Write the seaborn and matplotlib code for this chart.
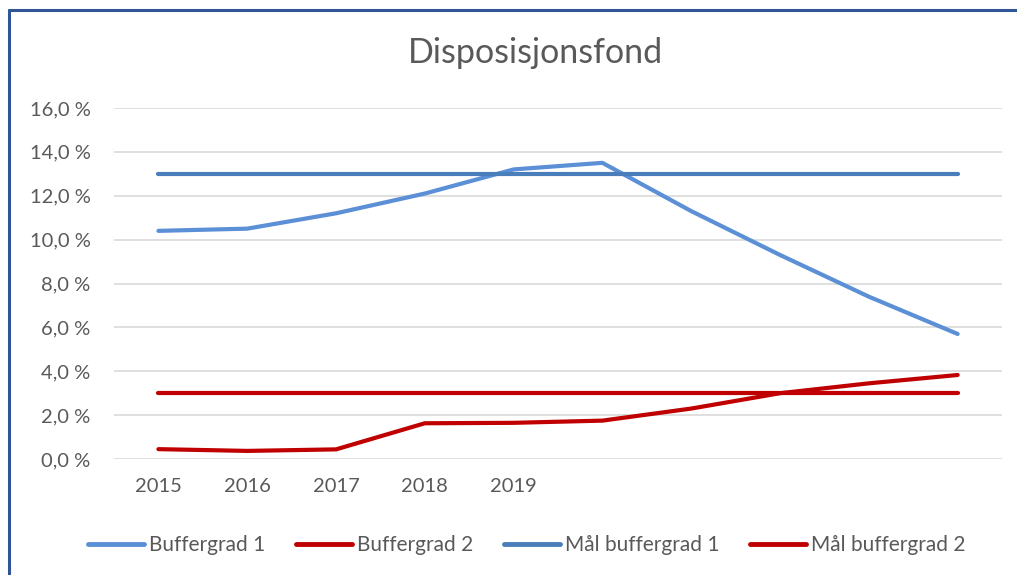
import numpy as np
import pandas as pd
import matplotlib
matplotlib.use("Agg")
import matplotlib.pyplot as plt
from matplotlib.lines import Line2D
from matplotlib.ticker import FuncFormatter
import seaborn as sns

# data (share, in %)
periods = ["2015", "2016", "2017", "2018", "2019", "", "", "", "", ""]
buffergrad_1 = [10.4, 10.5, 11.2, 12.1, 13.2, 13.5, 11.3, 9.3, 7.4, 5.7]
buffergrad_2 = [0.45, 0.37, 0.44, 1.63, 1.65, 1.75, 2.3, 3.0, 3.45, 3.83]
maal_1 = [13.0] * 10
maal_2 = [3.0] * 10

series_names = ["Buffergrad 1", "Buffergrad 2", "Mål buffergrad 1", "Mål buffergrad 2"]
colors = ["#5B8FD6", "#C00000", "#4A7EBB", "#C00000"]

sns.set_theme(style="white")
plt.rcParams["font.family"] = ["Lato", "DejaVu Sans"]

# long form table for seaborn
rows = []
for name, vals in zip(series_names, [buffergrad_1, buffergrad_2, maal_1, maal_2]):
    for i, v in enumerate(vals):
        rows.append({"pos": i, "value": v, "serie": name})
df = pd.DataFrame(rows)

fig = plt.figure(figsize=(10.17, 5.75), dpi=100)
ax = fig.add_axes([0.1121, 0.2017, 0.8732, 0.6105])

sns.lineplot(data=df, x="pos", y="value", hue="serie", hue_order=series_names,
             palette=colors, linewidth=3.0, legend=False, ax=ax,
             solid_capstyle="round", zorder=3)

ax.set_xlim(-0.5, len(periods) - 0.5)
ax.set_ylim(0, 16)
ax.set_yticks(np.arange(0, 17, 2))
ax.yaxis.set_major_formatter(FuncFormatter(lambda v, p: f"{v:.1f} %".replace(".", ",")))
ax.set_xticks(range(len(periods)))
ax.set_xticklabels(periods)
ax.set_xlabel("")
ax.set_ylabel("")
ax.grid(axis="y", color="#D9D9D9", linewidth=1.2)
ax.set_axisbelow(True)
for s in ax.spines.values():
    s.set_visible(False)
ax.tick_params(axis="both", length=0, labelsize=14.5, colors="#595959")
ax.tick_params(axis="y", pad=17)
ax.tick_params(axis="x", pad=14)

fig.text(0.526, 0.907, "Disposisjonsfond", ha="center", va="center",
         fontsize=24.5, color="#595959")

handles = [Line2D([0], [0], color=c, linewidth=3.5, solid_capstyle="round") for c in colors]
fig.legend(handles, series_names, loc="center", bbox_to_anchor=(0.518, 0.052),
           ncol=4, frameon=False, fontsize=15, handlelength=2.7, handletextpad=0.25,
           columnspacing=1.45, labelcolor="#595959")

# frame border of the chart object (top and left visible in the crop)
fig.add_artist(Line2D([0.0085, 1.0], [0.983, 0.983], color="#2F5597", linewidth=2.2))
fig.add_artist(Line2D([0.0085, 0.0085], [0.0, 0.983], color="#2F5597", linewidth=2.2))

fig.savefig("out.png", dpi=100)
